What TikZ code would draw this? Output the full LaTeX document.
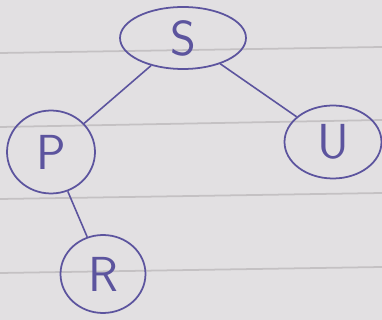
\documentclass[tikz,border=0pt]{standalone}
\usepackage{amsmath,amssymb}
\usetikzlibrary{shapes.geometric}
\definecolor{paper}{RGB}{226,224,226}
\definecolor{rule}{RGB}{196,193,195}
\definecolor{ink}{RGB}{92,84,158}
\begin{document}
\begin{tikzpicture}[x=0.02cm,y=-0.02cm,
  vert/.style={draw=ink,ellipse,line width=1pt,inner sep=0pt,text=ink,
    font=\sffamily\fontsize{28}{30}\selectfont},
  edge/.style={draw=ink,line width=0.9pt}]
\fill [paper] (0,0) rectangle (382,320);
\useasboundingbox (0,0) rectangle (382,320);
\draw [rule,line width=1pt] (0,53)--(382,47);
\draw [rule,line width=1pt] (0,127)--(382,120);
\draw [rule,line width=1pt] (0,199)--(382,193);
\draw [rule,line width=1pt] (0,273)--(382,267);
\node [vert,minimum width=2.52cm,minimum height=1.24cm] (S) at (183,38) {S};
\node [vert,minimum width=1.76cm,minimum height=1.66cm] (P) at (51,152) {P};
\node [vert,minimum width=1.94cm,minimum height=1.46cm] (U) at (333,142) {U};
\node [vert,minimum width=1.70cm,minimum height=1.56cm] (R) at (103,274) {R};
\draw [edge] (S)--(P);
\draw [edge] (S)--(U);
\draw [edge] (P)--(R);
\end{tikzpicture}
\end{document}
